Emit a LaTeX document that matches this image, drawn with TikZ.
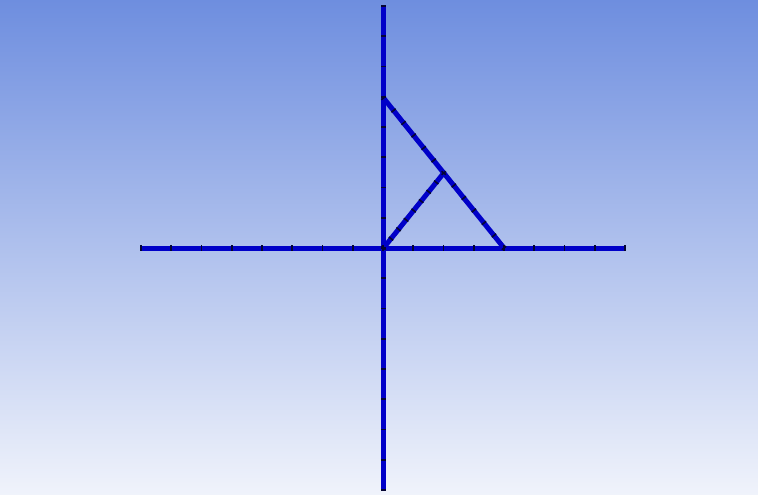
\documentclass[tikz,border=0pt]{standalone}
\usetikzlibrary{calc}
\definecolor{bgtop}{RGB}{110,142,223}
\definecolor{bgbot}{RGB}{240,243,251}
\definecolor{edgec}{RGB}{0,0,200}
\definecolor{tickc}{RGB}{5,5,50}
\tikzset{
  edgeline/.style={draw=edgec, line width=5pt, line cap=butt},
  tickmark/.style={sloped, fill=tickc, inner sep=0pt, minimum width=1.6pt, minimum height=5.5pt, draw=none}
}
\begin{document}
\begin{tikzpicture}[x=1pt,y=-1pt]
\useasboundingbox (0,0) rectangle (758,495);
\shade[top color=bgtop, bottom color=bgbot] (0,0) rectangle (758,495);
\coordinate (O) at (383.5,248);
\coordinate (L) at (141,248);
\coordinate (R) at (625,248);
\coordinate (T) at (383.5,6);
\coordinate (Bt) at (383.5,490);
\coordinate (A) at (383.5,98);
\coordinate (B) at (504,248);
\coordinate (M) at ($(A)!0.5!(B)$);
\draw[edgeline] (L) -- (R);
\draw[edgeline] (T) -- (Bt);
\draw[edgeline] (A) -- (B);
\draw[edgeline] (O) -- (M);
\foreach \i in {0,...,16} {
  \path (L) -- (R) node[tickmark, pos=\i/16] {};
  \path (T) -- (Bt) node[tickmark, pos=\i/16] {};
}
\foreach \i in {0,...,12} {
  \path (A) -- (B) node[tickmark, pos=\i/12] {};
}
\foreach \i in {0,...,8} {
  \path (O) -- (M) node[tickmark, pos=\i/8] {};
}
\end{tikzpicture}
\end{document}
